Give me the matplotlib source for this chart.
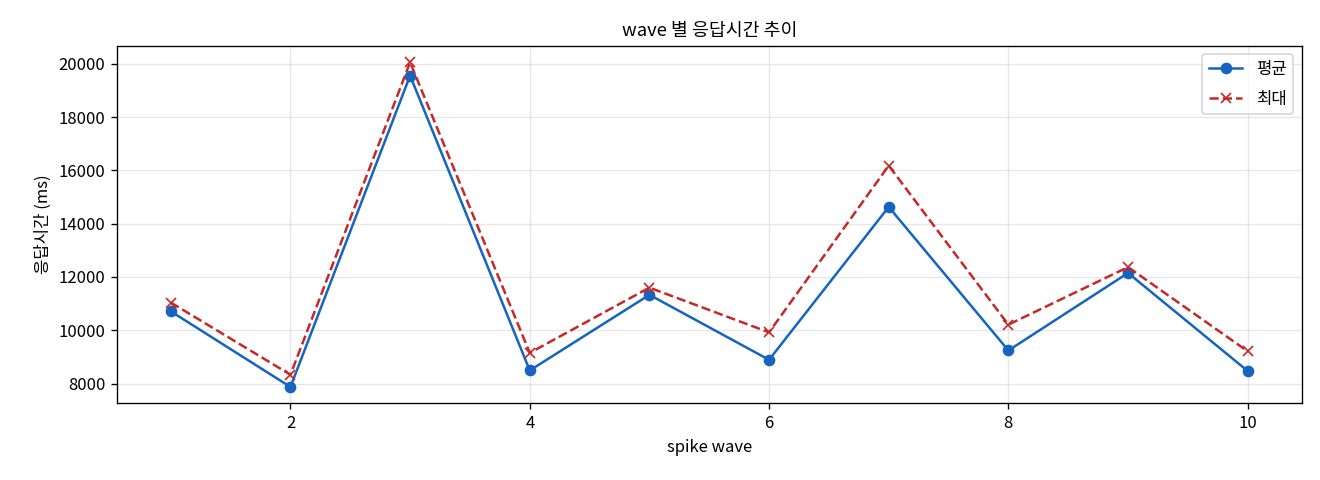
import matplotlib
matplotlib.use("Agg")
import matplotlib.pyplot as plt

plt.rcParams['font.family'] = ['Noto Sans CJK KR', 'DejaVu Sans']
plt.rcParams['axes.unicode_minus'] = False

waves = [1, 2, 3, 4, 5, 6, 7, 8, 9, 10]
avg_ms = [10710, 7870, 19560, 8490, 11330, 8890, 14630, 9240, 12150, 8470]
max_ms = [11040, 8330, 20060, 9150, 11600, 9920, 16180, 10210, 12370, 9210]

fig, ax = plt.subplots(figsize=(11, 4), dpi=120)
ax.plot(waves, avg_ms, marker='o', color='#1565C0', linewidth=1.5, markersize=6, label='평균')
ax.plot(waves, max_ms, marker='x', linestyle='--', color='#C62828', linewidth=1.5, markersize=6, label='최대')
ax.set_title('wave 별 응답시간 추이', fontsize=11)
ax.set_xlabel('spike wave')
ax.set_ylabel('응답시간 (ms)')
ax.grid(True, alpha=0.3)
ax.legend(loc='upper right', labelspacing=0.75)
fig.subplots_adjust(left=0.0886, right=0.986, top=0.904, bottom=0.160)
fig.savefig('out.png')
